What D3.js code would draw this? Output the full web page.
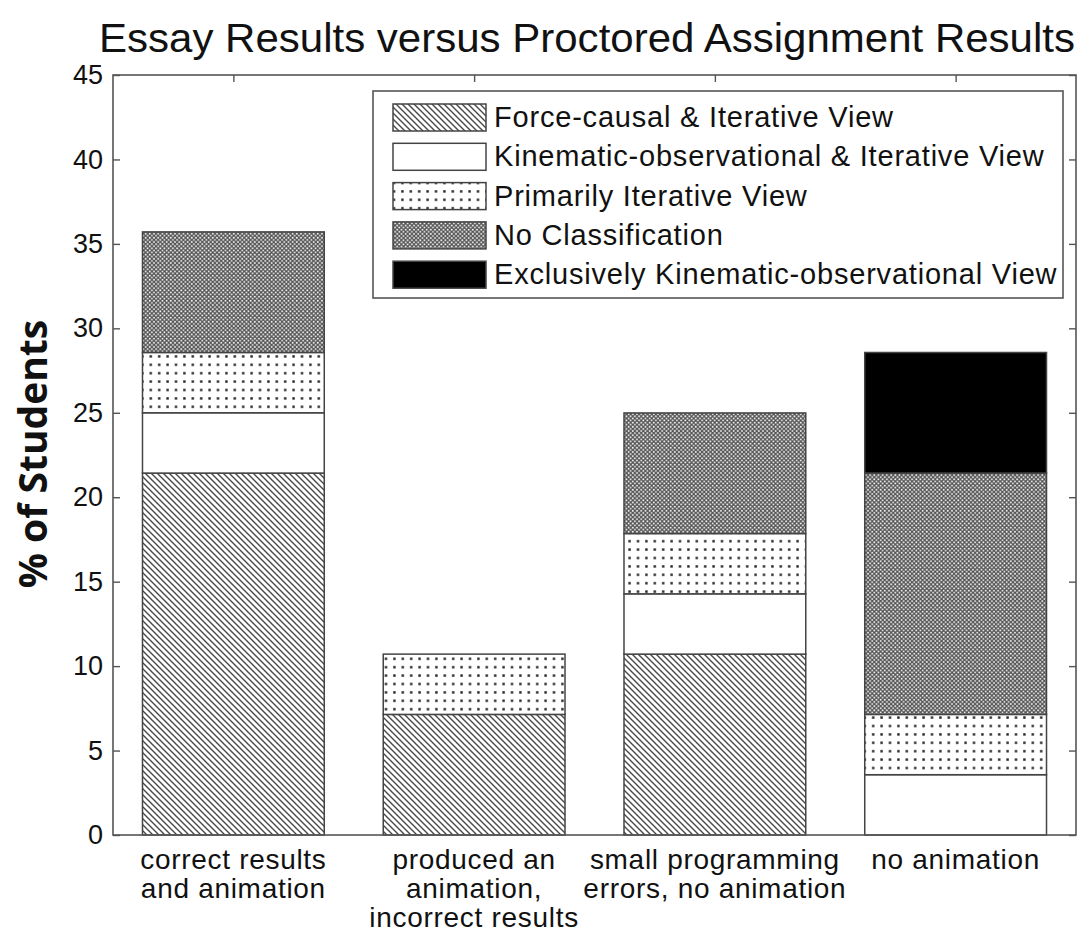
<!DOCTYPE html>
<html>
<head>
<meta charset="utf-8">
<script src="https://cdn.jsdelivr.net/npm/d3@7"></script>
<style>
  body { margin: 0; background: #fff; }
  text { font-family: "Liberation Sans", Arial, sans-serif; fill: #111; }
</style>
</head>
<body>
<svg width="1087" height="933"></svg>
<script>
// categories (x axis) - each one is a list of label lines
var categories = [
  ["correct results", "and animation"],
  ["produced an", "animation,", "incorrect results"],
  ["small programming", "errors, no animation"],
  ["no animation"]
];
var seriesNames = [
  "Force-causal & Iterative View",
  "Kinematic-observational & Iterative View",
  "Primarily Iterative View",
  "No Classification",
  "Exclusively Kinematic-observational View"
];
// % of students, bottom to top of each stack
var forceCausal = [21.43, 7.14, 10.71, 0];
var kinematicIter = [3.57, 0, 3.57, 3.57];
var primarilyIter = [3.57, 3.57, 3.57, 3.57];
var noClass = [7.14, 0, 7.14, 14.29];
var exclusiveKin = [0, 0, 0, 7.14];
var yTicks = [0, 5, 10, 15, 20, 25, 30, 35, 40, 45];

var svg = d3.select("svg"),
    margin = {top: 75, right: 11, bottom: 98, left: 113},
    width = +svg.attr("width") - margin.left - margin.right,
    height = +svg.attr("height") - margin.top - margin.bottom;

var keys = ["force", "kin", "prim", "none", "excl"];
var table = categories.map(function(c, i) {
  return {idx: i + 1, force: forceCausal[i], kin: kinematicIter[i], prim: primarilyIter[i],
          none: noClass[i], excl: exclusiveKin[i]};
});

var x = d3.scaleLinear().domain([0.5, 4.5]).range([0, width]),
    y = d3.scaleLinear().domain([0, 45]).range([height, 0]);
var barW = (x(2) - x(1)) * 0.755;

// patterns
var defs = svg.append("defs");
var hatch = defs.append("pattern").attr("id", "p-force")
  .attr("patternUnits", "userSpaceOnUse").attr("width", 6).attr("height", 6);
hatch.append("rect").attr("width", 6).attr("height", 6).attr("fill", "#fff");
hatch.append("path").attr("d", "M-1,-1 L7,7 M-4,2 L2,8 M4,-2 L10,4")
  .attr("stroke", "#4a4a4a").attr("stroke-width", 1.4);

var dots = defs.append("pattern").attr("id", "p-prim")
  .attr("patternUnits", "userSpaceOnUse").attr("width", 8.4).attr("height", 8.4);
dots.append("rect").attr("width", 8.4).attr("height", 8.4).attr("fill", "#fff");
dots.append("rect").attr("x", 3).attr("y", 3).attr("width", 2.4).attr("height", 2.4).attr("fill", "#222");

var check = defs.append("pattern").attr("id", "p-none")
  .attr("patternUnits", "userSpaceOnUse").attr("width", 4.2).attr("height", 4.2);
check.append("rect").attr("width", 4.2).attr("height", 4.2).attr("fill", "#555");
check.append("rect").attr("x", 0.3).attr("y", 0.3).attr("width", 1.6).attr("height", 1.6).attr("fill", "#fff");
check.append("rect").attr("x", 2.4).attr("y", 2.4).attr("width", 1.6).attr("height", 1.6).attr("fill", "#fff");

var fills = {force: "url(#p-force)", kin: "#fff", prim: "url(#p-prim)", none: "url(#p-none)", excl: "#000"};

// title
svg.append("text")
  .attr("x", 587)
  .attr("y", 52)
  .attr("text-anchor", "middle")
  .attr("textLength", 976)
  .attr("lengthAdjust", "spacingAndGlyphs")
  .style("font-size", "40px")
  .text("Essay Results versus Proctored Assignment Results");

// y label
svg.append("text")
  .attr("transform", "translate(47," + 454 + ") rotate(-90)")
  .attr("text-anchor", "middle")
  .style("font-family", "'Open Sans', 'Noto Sans', sans-serif")
  .style("font-weight", "bold")
  .style("font-size", "39px")
  .text("% of Students");

var g = svg.append("g")
  .attr("transform", "translate(" + margin.left + "," + margin.top + ")");

var stacked = d3.stack().keys(keys)(table);

g.selectAll("g.layer")
  .data(stacked)
  .enter().append("g")
    .attr("class", "layer")
  .selectAll("rect")
  .data(function(d) { return d.map(function(p) { p.key = d.key; return p; }); })
  .enter().filter(function(d) { return d[1] - d[0] > 0; }).append("rect")
    .attr("x", function(d) { return x(d.data.idx) - barW / 2; })
    .attr("y", function(d) { return y(d[1]); })
    .attr("width", barW)
    .attr("height", function(d) { return y(d[0]) - y(d[1]); })
    .attr("fill", function(d) { return fills[d.key]; })
    .attr("stroke", "#444")
    .attr("stroke-width", 1.5);

// box axes (matlab style)
var axisCol = "#555";
g.append("rect").attr("width", width).attr("height", height)
  .attr("fill", "none").attr("stroke", axisCol).attr("stroke-width", 1.6);

var yAxis = d3.axisLeft(y).tickValues(yTicks).tickSize(-7).tickPadding(10);
var yg = g.append("g").call(yAxis);
yg.select(".domain").remove();
yg.selectAll("line").attr("stroke", axisCol).attr("stroke-width", 1.4);
yg.selectAll("text").style("font-size", "27px").attr("fill", "#111")
  .style("font-family", "'Liberation Sans', Arial, sans-serif");

var yR = g.append("g").attr("transform", "translate(" + width + ",0)")
  .call(d3.axisRight(y).tickValues(yTicks).tickSize(-7).tickFormat(""));
yR.select(".domain").remove();
yR.selectAll("line").attr("stroke", axisCol).attr("stroke-width", 1.4);

var xTop = g.append("g").call(d3.axisTop(x).tickValues([1, 2, 3, 4]).tickSize(-7).tickFormat(""));
xTop.select(".domain").remove();
xTop.selectAll("line").attr("stroke", axisCol).attr("stroke-width", 1.4);

// x category labels
var xl = g.append("g").attr("transform", "translate(0," + height + ")");
categories.forEach(function(lines, i) {
  var t = xl.append("text")
    .attr("x", x(i + 1))
    .attr("y", 34)
    .attr("text-anchor", "middle")
    .style("font-size", "28px")
    .style("letter-spacing", "0.7px");
  lines.forEach(function(l, j) {
    t.append("tspan").attr("x", x(i + 1)).attr("dy", j === 0 ? 0 : 29).text(l);
  });
});

// legend
var lg = svg.append("g").attr("transform", "translate(373,91)");
lg.append("rect").attr("width", 690).attr("height", 207)
  .attr("fill", "#fff").attr("stroke", axisCol).attr("stroke-width", 1.6);
keys.forEach(function(k, i) {
  var row = lg.append("g").attr("transform", "translate(0," + (26 + i * 39.3) + ")");
  row.append("rect").attr("x", 20).attr("y", -13).attr("width", 93).attr("height", 27)
    .attr("fill", fills[k]).attr("stroke", "#444").attr("stroke-width", 1.5);
  row.append("text").attr("x", 121).attr("y", 10)
    .style("font-size", "29px").style("letter-spacing", "0.8px").text(seriesNames[i]);
});
</script>
</body>
</html>
